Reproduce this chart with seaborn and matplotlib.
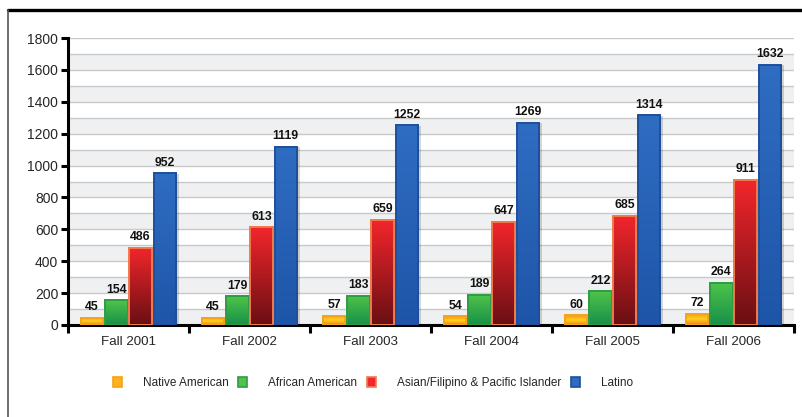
import numpy as np
import pandas as pd
import matplotlib
matplotlib.use("Agg")
import matplotlib.pyplot as plt
from matplotlib.colors import LinearSegmentedColormap
from matplotlib.patches import Patch
from matplotlib.lines import Line2D
import seaborn as sns

# Enrollment counts by term and group
terms = ["Fall 2001", "Fall 2002", "Fall 2003", "Fall 2004", "Fall 2005", "Fall 2006"]
groups = ["Native American", "African American",
          "Asian/Filipino & Pacific Islander", "Latino"]
native_american = [45, 45, 57, 54, 60, 72]
african_american = [154, 179, 183, 189, 212, 264]
asian_pacific = [486, 613, 659, 647, 685, 911]
latino = [952, 1119, 1252, 1269, 1314, 1632]
y_ticks = [0, 200, 400, 600, 800, 1000, 1200, 1400, 1600, 1800]

series = [native_american, african_american, asian_pacific, latino]
df = pd.DataFrame({
    "term": terms * len(groups),
    "group": np.repeat(groups, len(terms)),
    "count": sum(series, []),
})

# Fill gradients (bottom to top colour stops) and outline colours per group
gradients = {
    "Native American": ["#f47b20", "#ffd21c", "#f7941d"],
    "African American": ["#17904a", "#4fc449"],
    "Asian/Filipino & Pacific Islander": ["#6a0f14", "#f2262b"],
    "Latino": ["#1e55a8", "#2f6dc2"],
}
edges = {
    "Native American": "#f7a21b",
    "African American": "#2f9b45",
    "Asian/Filipino & Pacific Islander": "#f07a4c",
    "Latino": "#1d4f9a",
}
solid = {g: gradients[g][-1] for g in groups}

sns.set_theme(style="white")
plt.rcParams["font.family"] = ["Liberation Sans", "DejaVu Sans"]

fig = plt.figure(figsize=(8.03, 4.17), dpi=100)
ax = fig.add_axes([68 / 803, 92 / 417, 726 / 803, 287 / 417])

sns.barplot(data=df, x="term", y="count", hue="group", order=terms,
            hue_order=groups, palette=solid, width=0.8, gap=0.08,
            legend=False, ax=ax, zorder=3)

# Alternating shaded bands and 100-step grid lines
for lo in range(0, 1800, 200):
    ax.axhspan(lo, lo + 100, color="#eef0f2", zorder=0, lw=0)
for v in range(100, 1801, 100):
    ax.axhline(v, color="#c9c9c9", lw=1.0, zorder=1)

# Gradient fill, drop shadow and value label for every bar
for container, g in zip(ax.containers, groups):
    cmap = LinearSegmentedColormap.from_list(g, gradients[g])
    grad = np.linspace(0, 1, 64).reshape(-1, 1)
    for rect in container.patches:
        x0, y0 = rect.get_x(), rect.get_y()
        w, h = rect.get_width(), rect.get_height()
        shadow = plt.Rectangle((x0 + 0.028, y0), w, h - 4, color="#000000",
                               alpha=0.16, lw=0, zorder=2)
        ax.add_patch(shadow)
        im = ax.imshow(grad, cmap=cmap, origin="lower", aspect="auto",
                       extent=[x0, x0 + w, y0, y0 + h], zorder=3.5,
                       interpolation="bilinear")
        im.set_clip_path(rect)
        rect.set_facecolor("none")
        rect.set_edgecolor(edges[g])
        rect.set_linewidth(1.4)
        rect.set_zorder(4)
        ax.text(x0 + w / 2, y0 + h + 28, f"{int(h)}", ha="center",
                va="bottom", fontsize=8.8, fontweight="bold", color="#111111",
                zorder=5)

ax.set_xlim(-0.5, 5.5)
ax.set_ylim(0, 1800)
ax.set_yticks(y_ticks)
ax.set_yticklabels([str(v) for v in y_ticks], fontsize=10)
ax.set_xticks(np.arange(-0.5, 6, 1.0))
ax.set_xticklabels([])
ax.set_xticks(np.arange(6), minor=True)
ax.set_xticklabels(terms, minor=True, fontsize=9.6)
ax.tick_params(axis="x", which="major", direction="out", length=6, width=2.2,
               color="black", bottom=True)
ax.tick_params(axis="x", which="minor", length=0, pad=8)
ax.tick_params(axis="y", direction="out", length=5, width=2.2, color="black",
               left=True, pad=2)
ax.set_xlabel("")
ax.set_ylabel("")
for side in ["top", "right"]:
    ax.spines[side].set_visible(False)
for side in ["left", "bottom"]:
    ax.spines[side].set_color("black")
    ax.spines[side].set_linewidth(2.2)
ax.set_facecolor("white")

handles = [Patch(facecolor=gradients[g][-1] if g != "Native American" else "#ffb21f",
                 edgecolor=edges[g], lw=1.2)
           for g in groups]
fig.legend(handles, groups, loc="center", bbox_to_anchor=(373 / 803, 1 - 383 / 417),
           ncol=4, frameon=False, fontsize=8.5, handlelength=0.75,
           handleheight=0.9, handletextpad=1.8, columnspacing=0.8)

# Frame lines around the figure
fig.add_artist(Line2D([8 / 803, 1.0], [1 - 10 / 417] * 2, color="black",
                      lw=2.4, transform=fig.transFigure))
fig.add_artist(Line2D([8 / 803] * 2, [0, 1 - 10 / 417], color="#555555",
                      lw=1.2, transform=fig.transFigure))

fig.savefig("out.png", dpi=100, facecolor="white")
